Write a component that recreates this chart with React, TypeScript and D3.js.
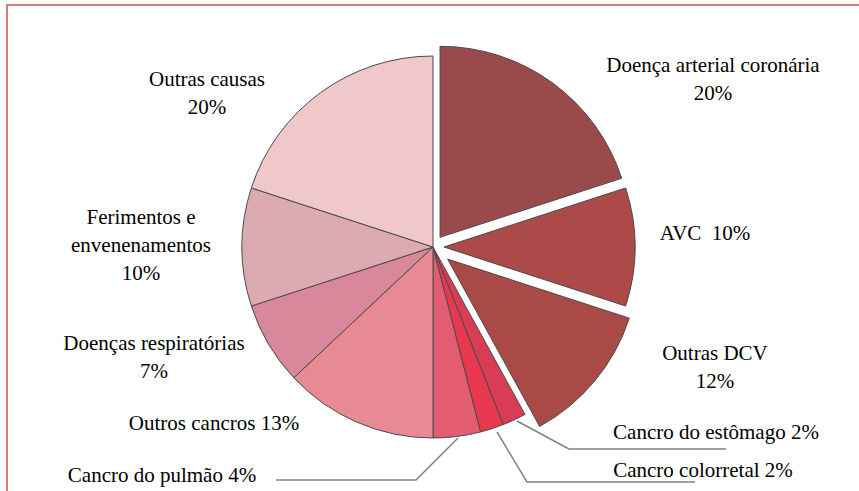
import React from "react";
import * as d3 from "d3";

const categories = [
  "Doença arterial coronária",
  "AVC",
  "Outras DCV",
  "Cancro do estômago",
  "Cancro colorretal",
  "Cancro do pulmão",
  "Outros cancros",
  "Doenças respiratórias",
  "Ferimentos e envenenamentos",
  "Outras causas",
];
const values = [20, 10, 12, 2, 2, 4, 13, 7, 10, 20];
const colors = [
  "#9b4a4c",
  "#ab4a49",
  "#aa4a47",
  "#d93d56",
  "#e7384f",
  "#e35d70",
  "#e88a93",
  "#d9879a",
  "#dcabb2",
  "#f0c8ca",
];
const explode = [12, 11, 19, 0, 0, 0, 0, 0, 0, 0];

// label layout: lines (using {name} / {pct}), anchor center x, first baseline y
const labelLayout = [
  { lines: ["{name}", "{pct}"], x: 713, y: 72 },
  { lines: ["{name}  {pct}"], x: 705, y: 240 },
  { lines: ["{name}", "{pct}"], x: 715, y: 360 },
  { lines: ["{name} {pct}"], x: 716, y: 439 },
  { lines: ["{name} {pct}"], x: 703, y: 477 },
  { lines: ["{name} {pct}"], x: 162, y: 482 },
  { lines: ["{name} {pct}"], x: 214, y: 430 },
  { lines: ["{name}", "{pct}"], x: 154, y: 350 },
  { lines: ["Ferimentos e", "envenenamentos", "{pct}"], x: 141, y: 224 },
  { lines: ["{name}", "{pct}"], x: 207, y: 86 },
];

// leader lines: [slice edge point, elbow, end]
const leaders: { idx: number; pts: [number, number][] }[] = [
  { idx: 3, pts: [[517, 421], [569, 449], [726, 449]] },
  { idx: 4, pts: [[497, 432], [527, 482], [695, 482]] },
  { idx: 5, pts: [[458, 438], [416, 480], [276, 480]] },
];

const W = 859;
const H = 491;
const cx = 433;
const cy = 247;
const R = 191;

export default function App() {
  const total = d3.sum(values);
  const pie = d3
    .pie<number>()
    .sort(null)
    .startAngle(0)
    .endAngle(2 * Math.PI)
    .value((d) => d);
  const arcs = pie(values);
  const arcGen = d3.arc<d3.PieArcDatum<number>>().innerRadius(0).outerRadius(R);
  const line = d3.line<[number, number]>();

  return (
    <div style={{ position: "absolute", left: 0, top: 0, width: W, height: H, background: "#fff" }}>
      <svg width={W} height={H} style={{ display: "block" }}>
        <rect x={7} y={5} width={W + 20} height={H + 20} fill="none" stroke="#d67d7d" strokeWidth={2} />
        <g transform={`translate(${cx},${cy})`}>
          {arcs.map((a, i) => {
            const mid = (a.startAngle + a.endAngle) / 2;
            const dx = Math.sin(mid) * explode[i];
            const dy = -Math.cos(mid) * explode[i];
            return (
              <path
                key={i}
                d={arcGen(a) || ""}
                transform={`translate(${dx},${dy})`}
                fill={colors[i]}
                stroke="#4a4a4a"
                strokeWidth={1}
                strokeLinejoin="round"
              />
            );
          })}
        </g>
        {leaders.map((l) => (
          <path key={l.idx} d={line(l.pts) || ""} fill="none" stroke="#808080" strokeWidth={1.5} />
        ))}
        {labelLayout.map((lab, i) => {
          const pct = Math.round((values[i] / total) * 100) + "%";
          return (
            <text
              key={i}
              x={lab.x}
              y={lab.y}
              textAnchor="middle"
              fontSize={21}
              fill="#000"
              style={{ whiteSpace: "pre", fontFamily: "Liberation Serif, Times New Roman, serif" }}
            >
              {lab.lines.map((ln, j) => (
                <tspan key={j} x={lab.x} dy={j === 0 ? 0 : 28}>
                  {ln.replace("{name}", categories[i]).replace("{pct}", pct)}
                </tspan>
              ))}
            </text>
          );
        })}
      </svg>
    </div>
  );
}
